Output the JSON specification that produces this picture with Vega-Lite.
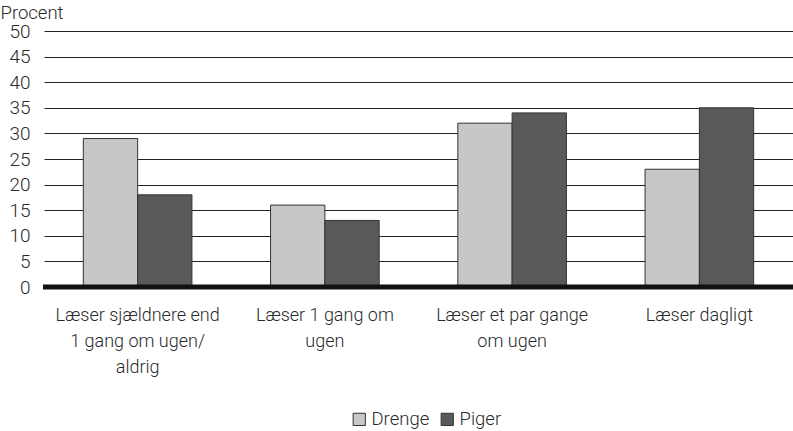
{
  "$schema": "https://vega.github.io/schema/vega-lite/v6.json",
  "width": 749,
  "height": 256,
  "autosize": {"type": "none"},
  "padding": {"left": 44, "top": 31, "right": 0, "bottom": 144},
  "config": {
    "view": {"stroke": null},
    "font": "Roboto",
    "axis": {"labelFont": "Roboto", "labelFontWeight": 300, "labelColor": "#2a2a2a", "titleFont": "Roboto", "titleFontWeight": 300, "titleColor": "#2a2a2a"},
    "legend": {"labelFont": "Roboto", "labelFontWeight": 300, "labelColor": "#2a2a2a"}
  },
  "data": {
    "values": [
      {"kategori": "Læser sjældnere end 1 gang om ugen/aldrig", "køn": "Drenge", "procent": 29},
      {"kategori": "Læser sjældnere end 1 gang om ugen/aldrig", "køn": "Piger", "procent": 18},
      {"kategori": "Læser 1 gang om ugen", "køn": "Drenge", "procent": 16},
      {"kategori": "Læser 1 gang om ugen", "køn": "Piger", "procent": 13},
      {"kategori": "Læser et par gange om ugen", "køn": "Drenge", "procent": 32},
      {"kategori": "Læser et par gange om ugen", "køn": "Piger", "procent": 34},
      {"kategori": "Læser dagligt", "køn": "Drenge", "procent": 23},
      {"kategori": "Læser dagligt", "køn": "Piger", "procent": 35}
    ]
  },
  "layer": [
    {
      "mark": {"type": "bar", "stroke": "#333", "strokeWidth": 1},
      "encoding": {
        "x": {
          "field": "kategori", "type": "nominal", "sort": null,
          "scale": {"paddingInner": 0.42, "paddingOuter": 0.21},
          "axis": {
            "title": null, "labelAngle": 0, "ticks": false, "domain": false,
            "labelFontSize": 18, "labelPadding": 19, "labelLineHeight": 26, "labelBaseline": "top",
            "labelOverlap": false, "labelLimit": 0,
            "labelExpr": "datum.value == 'Læser sjældnere end 1 gang om ugen/aldrig' ? ['Læser sjældnere end', '1 gang om ugen/', 'aldrig'] : datum.value == 'Læser 1 gang om ugen' ? ['Læser 1 gang om', 'ugen'] : datum.value == 'Læser et par gange om ugen' ? ['Læser et par gange', 'om ugen'] : datum.value"
          }
        },
        "xOffset": {"field": "køn", "type": "nominal", "scale": {"paddingInner": 0, "paddingOuter": 0}},
        "y": {
          "field": "procent", "type": "quantitative",
          "scale": {"domain": [0, 50]},
          "axis": {
            "title": "Procent", "titleAngle": 0, "titleAlign": "left", "titleBaseline": "alphabetic",
            "titleX": -44, "titleY": -13, "titleFontSize": 18.5,
            "values": [0, 5, 10, 15, 20, 25, 30, 35, 40, 45, 50],
            "labelOverlap": false, "labelFlush": false,
            "ticks": false, "domain": false, "labelPadding": 14, "labelFontSize": 19,
            "grid": true, "gridColor": "#222", "gridWidth": 1, "gridOpacity": 1
          }
        },
        "color": {
          "field": "køn", "type": "nominal",
          "scale": {"domain": ["Drenge", "Piger"], "range": ["#c6c7c8", "#58595b"]},
          "legend": {
            "title": null, "orient": "none", "direction": "horizontal",
            "legendX": 306, "legendY": 379,
            "symbolType": "square", "symbolSize": 150, "symbolStrokeColor": "#333", "symbolStrokeWidth": 1,
            "symbolOpacity": 1, "labelFontSize": 18.5, "columnPadding": 8, "labelOffset": 3
          }
        }
      }
    },
    {
      "data": {"values": [{"v": 0}]},
      "mark": {"type": "rule", "color": "#111", "strokeWidth": 5, "x": -1, "x2": 749},
      "encoding": {
        "y": {
          "field": "v", "type": "quantitative",
          "axis": {
            "title": "Procent", "titleAngle": 0, "titleAlign": "left", "titleBaseline": "alphabetic",
            "titleX": -44, "titleY": -13, "titleFontSize": 18.5,
            "values": [0, 5, 10, 15, 20, 25, 30, 35, 40, 45, 50],
            "labelOverlap": false, "labelFlush": false,
            "ticks": false, "domain": false, "labelPadding": 14, "labelFontSize": 19,
            "grid": true, "gridColor": "#222", "gridWidth": 1, "gridOpacity": 1
          }
        }
      }
    }
  ]
}
